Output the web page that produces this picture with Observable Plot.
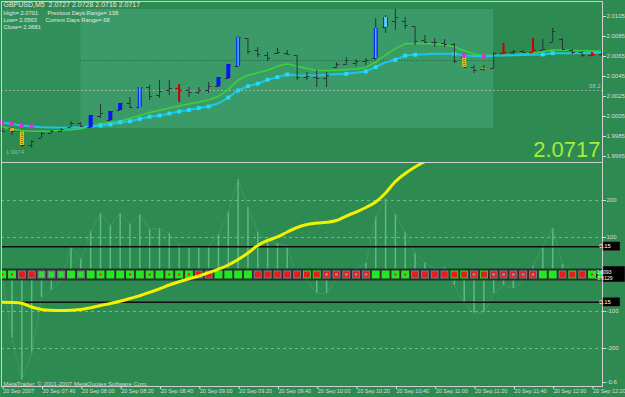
<!DOCTYPE html>
<html><head><meta charset="utf-8">
<script src="https://cdn.jsdelivr.net/npm/d3@7"></script>
<script src="https://cdn.jsdelivr.net/npm/@observablehq/plot@0.6"></script>
<style>
html,body{margin:0;padding:0;background:#2d8b52;}
#chart{position:relative;width:625px;height:397px;background:#2d8b52;overflow:hidden;}
#chart svg{position:absolute;left:0;display:block;}
</style></head><body><div id="chart"></div>
<script>
// ---------- DATA ----------
const highs = [1.9994,1.9994,1.9990,1.9981,1.9989,1.9991,1.9993,2.0000,1.9999,2.0006,
2.0017,2.0010,2.0018,2.0024,2.0034,2.0036,2.0041,2.0041,2.0037,2.0034,
2.0034,2.0039,2.0044,2.0057,2.0085,2.0083,2.0074,2.0069,2.0073,2.0071,
2.0066,2.0049,2.0051,2.0049,2.0059,2.0064,2.0062,2.0063,2.0103,2.0106,
2.0112,2.0104,2.0095,2.0086,2.0083,2.0082,2.0078,2.0064,2.0056,2.0056,
2.0069,2.0078,2.0071,2.0071,2.0083,2.0082,2.0093,2.0083,2.0072,2.0070,
2.0069,2.0071];
const lows = [1.9989,1.9986,1.9974,1.9973,1.9983,1.9988,1.9989,1.9994,1.9994,1.9993,
2.0003,2.0000,2.0011,2.0013,2.0014,2.0021,2.0023,2.0026,2.0019,2.0024,
2.0027,2.0028,2.0034,2.0042,2.0054,2.0067,2.0064,2.0060,2.0067,2.0066,
2.0041,2.0041,2.0034,2.0034,2.0053,2.0056,2.0055,2.0056,2.0061,2.0088,
2.0091,2.0092,2.0076,2.0078,2.0074,2.0074,2.0058,2.0053,2.0048,2.0050,
2.0053,2.0067,2.0067,2.0068,2.0069,2.0071,2.0079,2.0071,2.0067,2.0064,
2.0065,2.0065];
const opens = [1.9991,1.9993,1.9990,1.9976,1.9983,1.9988,1.9990,1.9994,1.9998,1.9994,
2.0005,2.0001,2.0011,2.0018,2.0014,2.0034,2.0026,2.0031,2.0033,2.0031,
2.0029,2.0031,2.0035,2.0043,2.0055,2.0083,2.0071,2.0066,2.0068,2.0068,
2.0066,2.0044,2.0044,2.0043,2.0054,2.0057,2.0058,2.0060,2.0063,2.0094,
2.0100,2.0100,2.0095,2.0081,2.0079,2.0078,2.0077,2.0064,2.0054,2.0052,
2.0053,2.0068,2.0069,2.0070,2.0069,2.0071,2.0079,2.0082,2.0071,2.0069,
2.0066,2.0067];
const closes = [1.9990,1.9990,1.9976,1.9980,1.9988,1.9990,1.9992,1.9998,1.9995,2.0006,
2.0008,2.0010,2.0018,2.0014,2.0034,2.0025,2.0030,2.0033,2.0031,2.0029,
2.0031,2.0035,2.0044,2.0057,2.0084,2.0070,2.0067,2.0063,2.0069,2.0067,
2.0044,2.0045,2.0043,2.0046,2.0057,2.0061,2.0060,2.0061,2.0093,2.0104,
2.0104,2.0096,2.0080,2.0079,2.0079,2.0077,2.0060,2.0054,2.0051,2.0053,
2.0068,2.0069,2.0070,2.0069,2.0071,2.0072,2.0090,2.0072,2.0069,2.0066,
2.0067,2.0068];
const bodyBars  = [1,2,9,11,12,14,18,22,23,24,38,39,47,49,51,54,60];
const bodyKinds = ["orange","yellow","blue","blue","blue","blueLight","red","blue","blue","blueLight","blueLight","cyanBox","yellow","yellow","red","red","red"];
const greenMA = [1.99946,1.99925,1.99909,1.99903,1.99903,1.99904,1.9991,1.99918,1.99928,1.9995,
1.99977,1.9999,2.00003,2.00032,2.00061,2.00091,2.00113,2.00134,2.00154,2.00174,
2.00193,2.00215,2.00252,2.0032,2.00415,2.00462,2.00487,2.00513,2.00552,2.00577,
2.00552,2.0053,2.0051,2.0051,2.00512,2.00519,2.00526,2.00541,2.00594,2.00665,
2.00728,2.00777,2.00781,2.00779,2.00776,2.00768,2.00746,2.00708,2.00676,2.0066,
2.0066,2.00664,2.00668,2.00677,2.00686,2.00697,2.00715,2.00714,2.00711,2.00708,
2.00705,2.00703];
const cyanMA = [1.9999,1.99975,1.9996,1.9995,1.99943,1.9994,1.99937,1.9994,1.99943,1.9995,
1.9996,1.9997,1.99992,2.00003,2.00026,2.00048,2.0006,2.0008,2.0010,2.00115,
2.00134,2.0015,2.00182,2.0024,2.0031,2.00353,2.00378,2.00418,2.00444,2.0047,
2.00462,2.0046,2.0046,2.00468,2.00472,2.00477,2.00488,2.00501,2.00544,2.00593,
2.00617,2.00659,2.00667,2.00672,2.00677,2.00677,2.00677,2.0066,2.00655,2.0065,
2.00658,2.0066,2.00662,2.00665,2.00668,2.0067,2.00683,2.00683,2.00683,2.00685,
2.00686,2.00687];
const cyanMarkerBars = [10,11,12,13,14,15,16,17,18,19,20,21,23,24,25,26,27,28,29,35,37,38,40,41,42,46,55,56];
const magentaMarkerBars = [0,1,2,3,47,49];
const sessionBox = {start: 8, end: 50, high: 2.0112, low: 1.9993};
const pivotLevel = 2.0061;
const fibLevel = 2.0031;
const fibLabel = "38.2";
const topTicks = [2.0105,2.0085,2.0065,2.0045,2.0025,2.0005,1.9985,1.9965];
const infoLines = ["GBPUSD,M5  2.0727 2.0728 2.0716 2.0717","High= 2.0701","Low= 2.0563","Close= 2.0681"];
const rangeLines = ["Previous Days Range= 138","Current Days Range= 68"];
const lastPrice = "2.0717";
const lowLabel = "1.9974";

const hist = [-6,-170,-286,-214,-62,-43,-16,76,41,116,
165,132,165,135,162,122,124,111,78,73,
73,76,108,168,257,181,114,92,84,76,
-11,-16,-51,-51,-11,-3,16,30,154,205,
162,114,57,32,16,19,-30,-78,-105,-103,
-51,-30,-38,-16,22,76,124,27,11,-11,
4,19];
const yellowLine = [-75.0,-75.7,-77.8,-87.8,-94.6,-96.8,-97.3,-96.5,-94.6,-89.7,
-83.8,-78.4,-72.4,-64.9,-57.3,-48.1,-38.6,-28.4,-19.5,-11.4,
-4.1,4.9,14.3,25.7,40.5,58.1,78.4,91.9,101.4,114.9,
127.0,135.1,139.2,141.1,145.9,158.1,168.9,181.1,196.0,220.3,
251.4,273.0,290.5,305.4,320];
const squareTypes = ["Gd","Gd","R","R","X","X","X","G","X","G",
"Gd","G","G","Gd","G","Gd","G","Gd","Gd","Gd",
"R","R","G","G","G","G","R","R","R","R",
"R","Rg","Rg","F","F","F","F","F","G","G",
"Gd","Gd","R","R","R","R","Rg","Rg","F","Rg",
"F","F","F","F","F","G","G","R","Rg","R",
"Gd","G"];
const gridLevels = [200,100,-100,-200];
const levelLines = [75,-75];
const levelLabels = ["0.15","0.15"];
const bottomTickValues = [200,100,-100,-200,-292];
const bottomTickLabels = ["200","100","-100","-200","-0.6"];
const bufferLabels = ["0.0093","-0.0129"];
const timeTickBars = [0,4,8,12,16,20,24,28,32,36,40,44,48,52,56,60];
const timeLabels = ["20 Sep 2007","20 Sep 07:40","20 Sep 08:00","20 Sep 08:20","20 Sep 08:40","20 Sep 09:00","20 Sep 09:20","20 Sep 09:40","20 Sep 10:00","20 Sep 10:20","20 Sep 10:40","20 Sep 11:00","20 Sep 11:20","20 Sep 11:40","20 Sep 12:00","20 Sep 12:20"];
const copyright = "MetaTrader, \u00A9 2001-2007 MetaQuotes Software Corp.";

// ---------- CHART ----------
const FONT = "Liberation Sans, Arial, sans-serif";
const XD = [-0.0712, 61.068];
const idx = highs.map((_, i) => i);
const redBars = new Set(bodyBars.filter((b, k) => bodyKinds[k] === "red"));
const darkIdx = idx.filter(i => !redBars.has(i));
const redIdx = idx.filter(i => redBars.has(i));
const bodies = bodyBars.map((b, k) => ({i: b, kind: bodyKinds[k]}));
const bk = k => bodies.filter(d => d.kind === k);
const BAR = "#263636", RED = "#c80000";
const TXT = "#e6e6e6";

const infoMarks = infoLines.map((t, i) => Plot.text([t], {frameAnchor: "top-left", text: d => d, dx: 2, dy: i === 0 ? 1 : 2 + i * 7.2, lineAnchor: "top", textAnchor: "start", fill: TXT, fontSize: i === 0 ? 7 : 5.8}));
const rangeMarks = rangeLines.map((t, i) => Plot.text([t], {frameAnchor: "top-left", text: d => d, dx: 46 - i * 2, dy: 9.2 + i * 7.2, lineAnchor: "top", textAnchor: "start", fill: TXT, fontSize: 5.8}));

const topPlot = Plot.plot({
  width: 625, height: 162, marginTop: 1, marginBottom: 0, marginLeft: 1, marginRight: 23,
  x: {domain: XD, axis: null},
  y: {domain: [1.9959, 2.0120], axis: null},
  style: {background: "transparent", fontFamily: FONT, fontSize: "6px", overflow: "visible"},
  marks: [
    Plot.rect([sessionBox], {x1: XD[0], x2: d => d.start, y1: d => d.low, y2: d => d.high, fill: "#31905a"}),
    Plot.rect([sessionBox], {x1: d => d.start, x2: d => d.end, y1: d => d.low, y2: d => d.high, fill: "#3b9b68"}),
    Plot.ruleY([pivotLevel], {x1: sessionBox.start, x2: sessionBox.end, stroke: "#1d5a34", strokeDasharray: "1,2"}),
    Plot.ruleY([fibLevel], {stroke: "#b4b4b4", strokeDasharray: "2,2", strokeOpacity: 0.8}),
    Plot.text([fibLabel], {x: XD[1], y: fibLevel, text: d => d, dx: -2, dy: -4, textAnchor: "end", fill: "#b8c0b8", fontSize: 6}),
    Plot.line(idx, {x: i => i, y: i => greenMA[i], stroke: "#3dd23d", strokeWidth: 1.5}),
    Plot.line(idx, {x: i => i, y: i => cyanMA[i], stroke: "#19c6ec", strokeWidth: 2}),
    Plot.dot(cyanMarkerBars, {x: d => d, y: d => cyanMA[d], symbol: "square", r: 2.2, fill: "#22dcff"}),
    Plot.dot(magentaMarkerBars, {x: d => d, y: d => cyanMA[d], symbol: "square", r: 2.2, fill: "#ee22ee"}),
    Plot.ruleX(darkIdx, {x: i => i, y1: i => lows[i], y2: i => highs[i], stroke: BAR, strokeWidth: 1}),
    Plot.ruleY(darkIdx, {y: i => opens[i], x1: i => i - 0.3, x2: i => i, stroke: BAR}),
    Plot.ruleY(darkIdx, {y: i => closes[i], x1: i => i, x2: i => i + 0.3, stroke: BAR}),
    Plot.ruleX(redIdx, {x: i => i, y1: i => lows[i], y2: i => highs[i], stroke: RED, strokeWidth: 2}),
    Plot.ruleY(redIdx, {y: i => opens[i], x1: i => i - 0.35, x2: i => i, stroke: RED, strokeWidth: 1.5}),
    Plot.ruleY(redIdx, {y: i => closes[i], x1: i => i, x2: i => i + 0.35, stroke: RED, strokeWidth: 1.5}),
    Plot.ruleX(bk("blue"), {x: "i", y1: d => opens[d.i], y2: d => closes[d.i], stroke: "#0814ff", strokeWidth: 4}),
    Plot.ruleX(bk("blueLight"), {x: "i", y1: d => opens[d.i], y2: d => closes[d.i], stroke: "#0a28ff", strokeWidth: 4}),
    Plot.ruleX(bk("blueLight"), {x: "i", y1: d => opens[d.i], y2: d => closes[d.i], stroke: "#48b8ff", strokeWidth: 1.5}),
    Plot.ruleX(bk("cyanBox"), {x: "i", y1: d => opens[d.i], y2: d => closes[d.i], stroke: "#26384a", strokeWidth: 5}),
    Plot.ruleX(bk("cyanBox"), {x: "i", y1: d => opens[d.i], y2: d => closes[d.i], stroke: "#58c8ff", strokeWidth: 3}),
    Plot.ruleX(bk("yellow"), {x: "i", y1: d => opens[d.i], y2: d => closes[d.i], stroke: "#e2c21e", strokeWidth: 4}),
    Plot.ruleX(bk("yellow"), {x: "i", y1: d => opens[d.i], y2: d => closes[d.i], stroke: "#8a7410", strokeWidth: 2, strokeDasharray: "1,1"}),
    Plot.ruleX(bk("orange"), {x: "i", y1: d => opens[d.i], y2: d => closes[d.i], stroke: "#e8a21c", strokeWidth: 4}),
    Plot.text([lowLabel], {x: 2, y: lows[2], text: d => d, dx: -7, dy: 5, fill: "#8fb79c", fontSize: 6}),
    ...infoMarks,
    ...rangeMarks,
    Plot.text([lastPrice], {frameAnchor: "bottom-right", text: d => d, dx: -2, dy: -6, lineAnchor: "bottom", textAnchor: "end", fill: "#a6ec3a", fontSize: 22}),
    Plot.frame({stroke: "#cfcfcf"}),
    Plot.axisY({anchor: "right", ticks: topTicks, tickFormat: d3.format(".4f"), tickSize: 3, tickPadding: 1, color: "#dcdcdc", fontSize: 6})
  ]
});
topPlot.style.top = "0px";

const sq = t => idx.filter(i => t.includes(squareTypes[i]));
const bottomPlot = Plot.plot({
  width: 625, height: 235, marginTop: 0, marginBottom: 11, marginLeft: 1, marginRight: 23,
  x: {domain: XD, axis: null},
  y: {domain: [-302.7, 302.7], axis: null},
  style: {background: "transparent", fontFamily: FONT, fontSize: "6px", overflow: "visible"},
  marks: [
    Plot.ruleY(gridLevels, {stroke: "#78c496", strokeDasharray: "3,3", strokeOpacity: 0.85}),
    Plot.ruleX(idx, {x: i => i, y1: 0, y2: i => hist[i], stroke: "#62c088", strokeWidth: 1.5, strokeOpacity: 0.9}),
    Plot.line(idx, {x: i => i, y: i => hist[i], stroke: "#4e9e70", strokeWidth: 0.8, strokeOpacity: 0.7}),
    Plot.ruleY(levelLines, {stroke: "#0e0e0e", strokeWidth: 1.5}),
    Plot.ruleY([0], {stroke: "#25332a", strokeWidth: 12}),
    Plot.dot(sq(["G", "Gd", "Rg"]), {x: i => i, y: 0, symbol: "square", r: 4.5, fill: "#24e624"}),
    Plot.dot(sq(["R", "X", "F"]), {x: i => i, y: 0, symbol: "square", r: 4.5, fill: "#7c7f8e"}),
    Plot.dot(sq(["R", "Rg", "F"]), {x: i => i, y: 0, symbol: "square", r: 3.4, fill: "#e51c1c"}),
    Plot.dot(sq(["X"]), {x: i => i, y: 0, symbol: "square", r: 2.8, fill: "#24e624"}),
    Plot.dot(sq(["F"]), {x: i => i, y: 0, symbol: "square", r: 1.6, fill: "#8a8c96"}),
    Plot.dot(sq(["Gd"]), {x: i => i, y: 0, symbol: "square", r: 1.1, fill: "#e51c1c"}),
    Plot.line(yellowLine, {x: (d, i) => i, y: d => d, stroke: "#f2f200", strokeWidth: 3, clip: true, curve: "catmull-rom"}),
    Plot.text([copyright], {frameAnchor: "bottom-left", text: d => d, dx: 2, dy: -1, lineAnchor: "bottom", textAnchor: "start", fill: "#d8d8d8", fontSize: 6}),
    Plot.frame({stroke: "#cfcfcf"}),
    Plot.axisY({anchor: "right", ticks: bottomTickValues, tickFormat: d => bottomTickLabels[bottomTickValues.indexOf(d)], tickSize: 3, tickPadding: 1, color: "#dcdcdc", fontSize: 6}),
    Plot.axisX({anchor: "bottom", ticks: timeTickBars, tickFormat: d => timeLabels[timeTickBars.indexOf(d)], tickSize: 3, tickPadding: 0, textAnchor: "start", dx: 1, color: "#dcdcdc", fontSize: 5.5})
  ]
});
bottomPlot.style.top = "162px";

const chart = document.getElementById("chart");
chart.appendChild(topPlot);
chart.appendChild(bottomPlot);

const ysc = bottomPlot.scale("y"), xsc = bottomPlot.scale("x");
const svgB = d3.select(bottomPlot);
const x0 = xsc.apply(XD[1]) + 1;
levelLines.forEach((v, k) => {
  const yy = ysc.apply(v);
  svgB.append("rect").attr("x", x0).attr("y", yy - 4.5).attr("width", 17).attr("height", 9).attr("fill", "#000").attr("stroke", "#555").attr("stroke-width", 0.5);
  svgB.append("text").attr("x", x0 + 2).attr("y", yy + 2.2).attr("fill", "#fff").attr("font-size", 6).attr("font-family", FONT).text(levelLabels[k]);
});
{
  const yy = ysc.apply(0);
  svgB.append("rect").attr("x", x0).attr("y", yy - 8).attr("width", 22).attr("height", 16).attr("fill", "#000").attr("stroke", "#666").attr("stroke-width", 0.5);
  bufferLabels.forEach((t, k) => {
    svgB.append("text").attr("x", x0 + 1).attr("y", yy - 0.5 + k * 6.5).attr("fill", "#fff").attr("font-size", 5).attr("font-family", FONT).text(t);
  });
}
</script>
</body></html>
